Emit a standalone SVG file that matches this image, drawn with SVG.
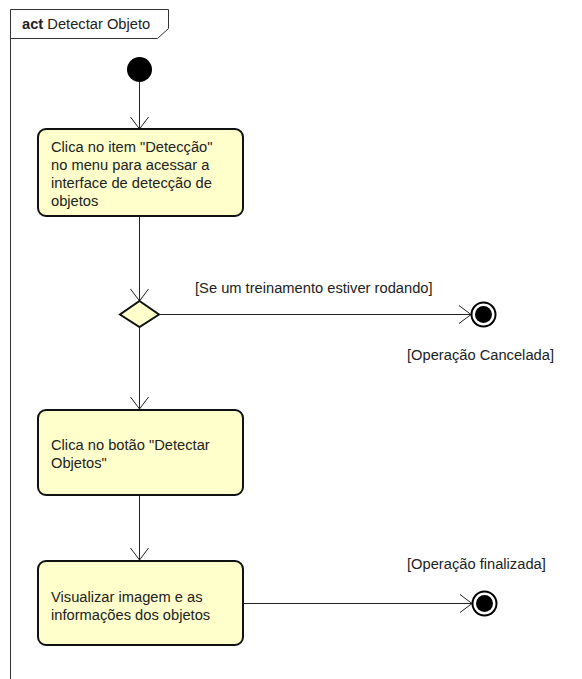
<svg xmlns="http://www.w3.org/2000/svg" width="582" height="679" viewBox="0 0 582 679">
  <style>
    text { font-family: "Liberation Sans", Arial, sans-serif; font-size: 14.7px; fill: #222; }
    .frame { fill: none; stroke: #333; stroke-width: 1; }
    .action { fill: #ffffcc; stroke: #111; stroke-width: 2; }
    .edge { fill: none; stroke: #222; stroke-width: 1; }
    .head { fill: none; stroke: #222; stroke-width: 1; }
  </style>
  <rect width="582" height="679" fill="#ffffff"/>

  <!-- frame -->
  <g id="frame">
    <path class="frame" d="M10.5,679 V9.5 H168.5 V28.5 L157.5,38.5 H10.5"/>
    <text x="22" y="29"><tspan font-weight="bold">act</tspan> Detectar Objeto</text>
  </g>

  <!-- connectors -->
  <g id="connectors">
    <path class="edge" d="M139.5,82 V129"/>
    <path class="head" d="M130.5,117 L139.5,129 L148.5,117"/>
    <path class="edge" d="M139.5,216 V301"/>
    <path class="head" d="M130.5,289 L139.5,301 L148.5,289"/>
    <path class="edge" d="M159,314.5 H471"/>
    <path class="head" d="M459,305.5 L471,314.5 L459,323.5"/>
    <path class="edge" d="M139.5,327 V409"/>
    <path class="head" d="M130.5,397 L139.5,409 L148.5,397"/>
    <path class="edge" d="M139.5,495 V560"/>
    <path class="head" d="M130.5,548 L139.5,560 L148.5,548"/>
    <path class="edge" d="M243,603.5 H472"/>
    <path class="head" d="M460,594.5 L472,603.5 L460,612.5"/>
    <text x="195" y="293">[Se um treinamento estiver rodando]</text>
    <text x="407" y="360">[Operação Cancelada]</text>
    <text x="407" y="569">[Operação finalizada]</text>
  </g>

  <g id="start">
    <circle cx="139.5" cy="69.5" r="12.5" fill="#000"/>
  </g>

  <g id="action-detection-menu">
    <rect class="action" x="38" y="129" width="205" height="87" rx="8"/>
    <text x="51" y="152">Clica no item "Detecção"</text>
    <text x="51" y="170">no menu para acessar a</text>
    <text x="51" y="188">interface de detecção de</text>
    <text x="51" y="206">objetos</text>
  </g>

  <g id="decision">
    <polygon class="action" points="139.5,301 159,314.5 139.5,327 120,314.5"/>
  </g>

  <g id="end-cancelled">
    <circle cx="483.5" cy="314.5" r="12" fill="#fff" stroke="#000" stroke-width="2"/>
    <circle cx="483.5" cy="314.5" r="8.5" fill="#000"/>
  </g>

  <g id="action-detect-button">
    <rect class="action" x="38" y="410" width="205" height="85" rx="8"/>
    <text x="51" y="450">Clica no botão "Detectar</text>
    <text x="51" y="468">Objetos"</text>
  </g>

  <g id="action-view-results">
    <rect class="action" x="38" y="561" width="205" height="84" rx="8"/>
    <text x="51" y="602">Visualizar imagem e as</text>
    <text x="51" y="620">informações dos objetos</text>
  </g>

  <g id="end-finished">
    <circle cx="484.5" cy="603.5" r="12" fill="#fff" stroke="#000" stroke-width="2"/>
    <circle cx="484.5" cy="603.5" r="8.5" fill="#000"/>
  </g>
</svg>
